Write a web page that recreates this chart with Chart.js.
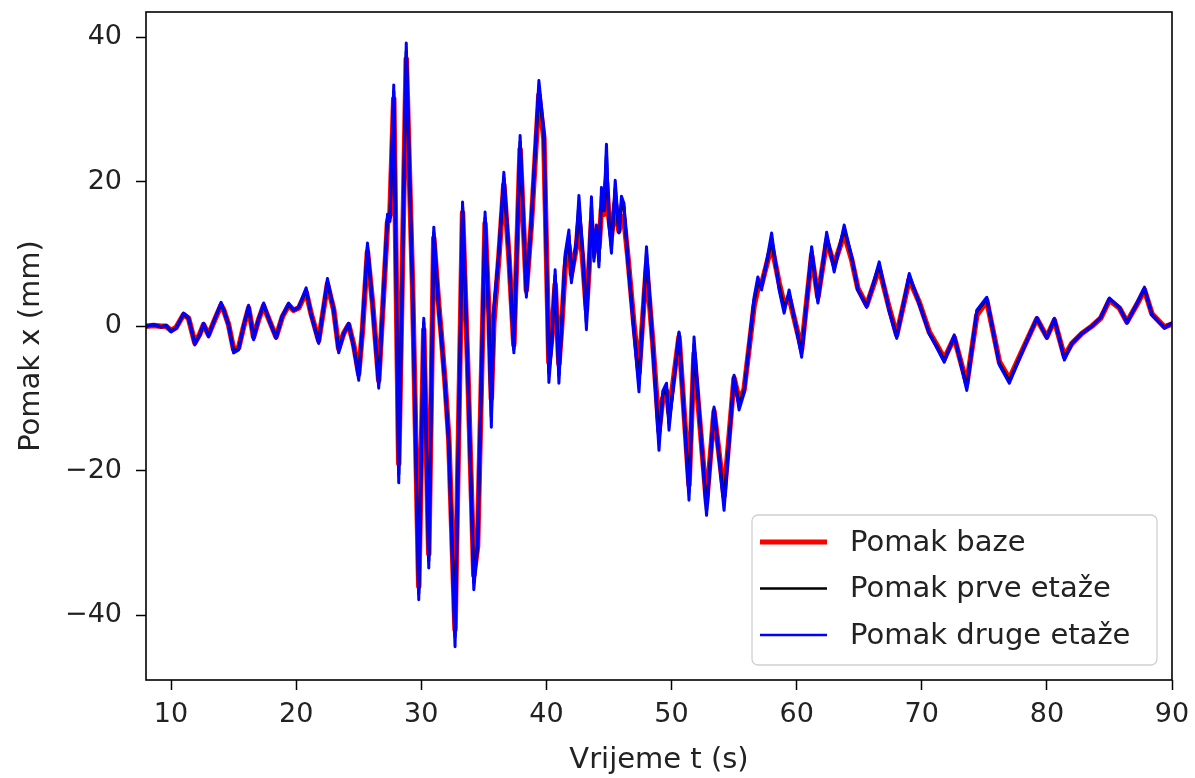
<!DOCTYPE html>
<html>
<head>
<meta charset="utf-8">
<script src="https://cdn.jsdelivr.net/npm/chart.js@4/dist/chart.umd.min.js"></script>
<style>
  html, body { margin: 0; padding: 0; background: #fff; }
  #wrap { width: 1195px; height: 778px; }
</style>
</head>
<body>
<div id="wrap"><canvas id="chart" width="1195" height="778"></canvas></div>
<script>
// time (s)
const time = [
  8.0, 8.6, 9.2, 9.6, 10.0, 10.4, 11.0, 11.4, 11.9, 12.3, 12.6, 13.0, 13.5, 14.0, 14.2, 14.6,
  15.0, 15.4, 15.8, 16.2, 16.6, 17.0, 17.4, 17.9, 18.4, 18.9, 19.4, 19.8, 20.2, 20.8, 21.2, 21.8,
  22.5, 23.0, 23.4, 23.8, 24.2, 24.6, 25.0, 25.3, 25.7, 26.1, 26.6, 27.0, 27.3, 27.5, 27.8, 28.2,
  28.8, 29.3, 29.8, 30.2, 30.6, 31.0, 31.4, 31.6, 31.9, 32.2, 32.7, 33.3, 33.7, 34.2, 34.5, 35.1,
  35.4, 35.6, 35.8, 36.2, 36.6, 37.0, 37.4, 37.9, 38.4, 38.8, 39.4, 39.8, 40.2, 40.4, 40.7, 41.0,
  41.2, 41.5, 41.8, 42.0, 42.4, 42.6, 42.9, 43.2, 43.4, 43.6, 43.8, 44.0, 44.2, 44.4, 44.6, 44.8,
  45.0, 45.2, 45.5, 45.8, 46.0, 46.2, 46.5, 47.0, 47.4, 48.0, 48.5, 49.0, 49.3, 49.6, 49.8, 50.1,
  50.6, 51.4, 51.8, 52.8, 53.4, 54.2, 55.0, 55.4, 55.8, 56.6, 56.9, 57.2, 58.0, 58.6, 59.0, 59.4,
  60.4, 61.2, 61.7, 62.4, 63.0, 63.8, 64.4, 64.9, 65.6, 66.6, 67.4, 68.0, 69.0, 69.8, 70.6, 71.2,
  71.8, 72.6, 73.6, 74.4, 75.2, 76.2, 77.0, 78.0, 79.2, 80.0, 80.6, 81.4, 82.0, 82.8, 83.6, 84.3,
  85.0, 85.8, 86.4, 87.2, 87.8, 88.4, 89.4, 90.0
];

// base displacement (mm)
const pomakBaze = [
  0.0, 0.1, 0.0, 0.0, -0.6, -0.2, 1.6, 1.1, -2.3, -1.1, 0.2, -1.2, 0.9, 2.9, 2.3, 0.2,
  -3.2, -3.0, -0.1, 2.5, -1.5, 0.9, 2.8, 0.6, -1.5, 1.3, 2.9, 2.2, 2.5, 4.7, 1.7, -2.0,
  5.8, 2.3, -3.1, -1.0, 0.2, -2.6, -6.6, -0.6, 10.3, 3.3, -7.5, 4.8, 14.3, 15.5, 31.5, -19.0,
  37.0, 5.8, -36.0, -0.5, -31.5, 12.2, 2.8, -1.2, -7.8, -15.6, -42.0, 15.7, -5.0, -34.5, -30.5, 14.2,
  2.0, -10.0, 0.5, 9.5, 19.6, 9.8, -2.6, 24.5, 5.0, 14.2, 32.0, 26.0, -5.0, -2.2, 5.8, -5.2,
  -0.6, 8.2, 11.2, 7.2, 11.0, 15.0, 9.2, 2.2, 7.8, 14.5, 10.2, 13.0, 10.8, 16.2, 15.5, 20.0,
  15.0, 12.5, 17.0, 13.2, 15.2, 14.8, 9.8, 0.2, -6.5, 8.5, -2.2, -14.5, -10.0, -9.0, -12.0, -8.2,
  -1.5, -22.0, -3.8, -24.5, -11.8, -23.5, -7.2, -10.2, -8.8, 2.8, 5.2, 5.8, 11.2, 6.0, 3.0, 4.0,
  -3.2, 9.8, 4.0, 11.8, 8.5, 12.8, 9.2, 5.2, 2.9, 8.0, 2.5, -1.2, 6.5, 3.3, -0.8, -2.6,
  -4.5, -1.6, -8.0, 1.5, 3.5, -4.9, -7.3, -3.5, 1.0, -1.5, 0.8, -4.2, -2.4, -1.0, 0.0, 1.1,
  3.6, 2.5, 0.6, 3.0, 5.0, 1.7, -0.1, 0.3
];

// first floor displacement (mm)
const pomakPrve = [
  0.0, 0.2, -0.1, 0.1, -0.7, -0.3, 1.7, 1.1, -2.4, -1.2, 0.3, -1.3, 1.0, 3.1, 2.3, 0.2,
  -3.4, -3.2, 0.0, 2.7, -1.7, 1.0, 3.0, 0.6, -1.6, 1.4, 3.0, 2.2, 2.6, 5.0, 1.6, -2.2,
  6.2, 2.3, -3.4, -1.0, 0.3, -2.8, -7.0, -0.3, 11.0, 3.2, -8.0, 5.0, 15.0, 15.0, 32.5, -20.5,
  38.0, 5.5, -37.0, 0.5, -32.5, 13.0, 2.5, -1.5, -8.0, -16.0, -43.0, 16.5, -5.0, -35.5, -30.5, 15.0,
  1.0, -12.5, 2.0, 10.0, 20.5, 10.0, -3.2, 25.5, 4.5, 14.5, 33.0, 26.5, -6.5, -3.0, 7.0, -6.8,
  -0.8, 9.5, 12.5, 6.5, 11.5, 17.0, 10.0, 0.5, 8.0, 16.5, 9.5, 13.5, 9.0, 18.0, 16.0, 23.5,
  14.5, 11.0, 19.0, 13.0, 17.0, 16.5, 9.5, -0.5, -8.0, 10.0, -2.5, -16.0, -9.5, -8.5, -13.5, -9.0,
  -1.0, -23.0, -2.5, -25.5, -11.5, -24.5, -7.0, -11.0, -9.0, 3.5, 6.0, 5.5, 12.0, 5.5, 2.5, 4.5,
  -3.8, 10.5, 3.5, 12.5, 8.0, 13.5, 9.5, 5.0, 2.8, 8.5, 2.2, -1.5, 7.0, 3.2, -1.0, -2.8,
  -4.8, -1.4, -8.5, 2.0, 3.8, -5.2, -7.6, -3.6, 1.1, -1.6, 1.0, -4.5, -2.4, -1.0, 0.0, 1.2,
  3.8, 2.6, 0.5, 3.1, 5.2, 1.6, -0.2, 0.4
];

// second floor displacement (mm)
const pomakDruge = [
  0.0, 0.2, -0.1, 0.1, -0.8, -0.3, 1.8, 1.2, -2.6, -1.2, 0.4, -1.5, 1.0, 3.3, 2.2, 0.0,
  -3.7, -3.3, 0.0, 2.9, -1.9, 1.0, 3.2, 0.5, -1.7, 1.5, 3.2, 2.2, 2.6, 5.3, 1.5, -2.4,
  6.6, 2.2, -3.7, -1.0, 0.4, -3.0, -7.5, 0.0, 11.5, 3.0, -8.6, 5.0, 15.5, 14.5, 33.4, -21.7,
  39.2, 5.0, -37.9, 1.1, -33.5, 13.7, 2.0, -1.5, -8.0, -16.7, -44.4, 17.2, -5.0, -36.5, -30.0, 15.8,
  0.0, -14.0, 2.6, 10.0, 21.3, 10.0, -3.7, 26.4, 4.0, 14.7, 34.0, 27.0, -7.8, -3.3, 7.8, -7.9,
  -0.6, 10.0, 13.3, 6.0, 12.0, 18.1, 10.0, -0.5, 8.0, 17.9, 9.0, 14.0, 8.2, 19.2, 16.0, 25.2,
  14.0, 10.1, 20.2, 12.9, 18.0, 17.0, 9.1, -1.0, -9.1, 11.0, -2.9, -17.2, -9.0, -7.9, -14.4, -9.0,
  -0.8, -24.1, -1.5, -26.2, -11.2, -25.5, -6.8, -11.6, -9.3, 4.0, 6.8, 5.0, 12.9, 5.0, 1.8, 5.0,
  -4.3, 11.0, 3.2, 13.0, 7.5, 14.0, 9.6, 5.0, 2.6, 8.9, 2.0, -1.7, 7.3, 3.0, -1.0, -3.0,
  -5.0, -1.2, -8.9, 2.2, 4.0, -5.4, -7.9, -3.7, 1.2, -1.7, 1.1, -4.7, -2.4, -1.0, 0.0, 1.2,
  3.9, 2.6, 0.4, 3.2, 5.4, 1.5, -0.3, 0.4
];

const seriesNames = ["Pomak baze", "Pomak prve etaže", "Pomak druge etaže"];
const xTicks = [10, 20, 30, 40, 50, 60, 70, 80, 90];
const yTicks = [-40, -20, 0, 20, 40];

const FONT = "'DejaVu Sans', sans-serif";

function points(ys) {
  return time.map((t, i) => ({ x: t, y: ys[i] }));
}

// frame around the plot area (matplotlib spines)
const framePlugin = {
  id: "frame",
  afterDatasetsDraw(chart) {
    const { ctx, chartArea: a } = chart;
    ctx.save();
    ctx.strokeStyle = "#000";
    ctx.lineWidth = 1.6;
    ctx.strokeRect(a.left, a.top, a.right - a.left, a.bottom - a.top);
    ctx.restore();
  }
};

// legend box in the lower right corner of the plot
const legendPlugin = {
  id: "innerLegend",
  afterDraw(chart) {
    const { ctx, chartArea: a } = chart;
    const w = 405, h = 150, r = 6;
    const x0 = a.right - 15 - w, y0 = a.bottom - 15 - h;
    ctx.save();
    ctx.beginPath();
    ctx.roundRect(x0, y0, w, h, r);
    ctx.fillStyle = "rgba(255,255,255,0.85)";
    ctx.fill();
    ctx.strokeStyle = "#d0d0d0";
    ctx.lineWidth = 1.3;
    ctx.stroke();
    ctx.font = "29px " + FONT;
    ctx.textBaseline = "middle";
    ctx.textAlign = "left";
    chart.data.datasets.forEach((ds, i) => {
      const y = y0 + 27 + i * 46.5;
      ctx.beginPath();
      ctx.moveTo(x0 + 8, y);
      ctx.lineTo(x0 + 75, y);
      ctx.strokeStyle = ds.borderColor;
      ctx.lineWidth = i === 0 ? 5 : 2.4;
      ctx.stroke();
      ctx.fillStyle = "#222";
      ctx.fillText(ds.label, x0 + 98, y + 1);
    });
    ctx.restore();
  }
};

new Chart(document.getElementById("chart"), {
  type: "line",
  data: {
    datasets: [
      { label: seriesNames[0], data: points(pomakBaze), borderColor: "#ff0000", borderWidth: 5.5, order: 3 },
      { label: seriesNames[1], data: points(pomakPrve), borderColor: "#000000", borderWidth: 3.2, order: 2 },
      { label: seriesNames[2], data: points(pomakDruge), borderColor: "#0000ff", borderWidth: 3, order: 1 }
    ]
  },
  options: {
    responsive: false,
    animation: false,
    events: [],
    elements: {
      point: { radius: 0 },
      line: { tension: 0, borderJoinStyle: "round", borderCapStyle: "round" }
    },
    layout: { padding: { left: 0, top: 12, right: 23, bottom: 0 } },
    plugins: { legend: { display: false }, tooltip: { enabled: false } },
    scales: {
      x: {
        type: "linear",
        min: 8,
        max: 90,
        afterFit(scale) {
          scale.height = 98;
          scale.paddingLeft = 0;
          scale.paddingRight = 0;
        },
        afterBuildTicks(scale) { scale.ticks = xTicks.map(v => ({ value: v })); },
        border: { display: false },
        grid: { drawOnChartArea: false, drawTicks: true, tickLength: 10, tickColor: "#000", tickWidth: 1.5 },
        ticks: { color: "#222", font: { family: FONT, size: 27 }, padding: 9, maxRotation: 0 },
        title: { display: true, text: "Vrijeme t (s)", color: "#222", font: { family: FONT, size: 29 }, padding: { top: 0, bottom: 0 } }
      },
      y: {
        type: "linear",
        min: -49,
        max: 43.5,
        afterFit(scale) {
          scale.width = 146;
          scale.paddingTop = 0;
          scale.paddingBottom = 0;
        },
        afterBuildTicks(scale) { scale.ticks = yTicks.map(v => ({ value: v })); },
        border: { display: false },
        grid: { drawOnChartArea: false, drawTicks: true, tickLength: 10, tickColor: "#000", tickWidth: 1.5 },
        ticks: {
          color: "#222",
          font: { family: FONT, size: 27 },
          padding: 14,
          callback: v => String(v).replace("-", "\u2212")
        },
        title: { display: true, text: "Pomak x (mm)", color: "#222", font: { family: FONT, size: 29 }, padding: { top: 14, bottom: 0 } }
      }
    }
  },
  plugins: [framePlugin, legendPlugin]
});
</script>
</body>
</html>
